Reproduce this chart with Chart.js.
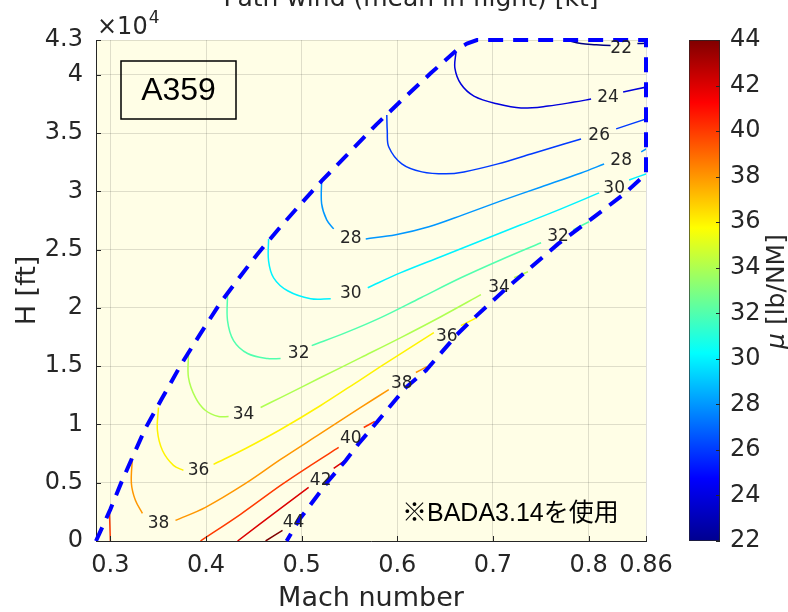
<!DOCTYPE html>
<html>
<head>
<meta charset="utf-8">
<script src="https://cdn.jsdelivr.net/npm/chart.js@4.4.1/dist/chart.umd.min.js"></script>
<style>
  html, body { margin: 0; padding: 0; background: #fff; }
  #wrap { position: relative; width: 788px; height: 612px; }
  #wrap canvas { position: absolute; left: 0; top: 0; }
</style>
</head>
<body>
<div id="wrap">
  <canvas id="contourChart" width="788" height="612"></canvas>
  <canvas id="colorbar" width="788" height="612"></canvas>
</div>
<script>
// axis ticks
const xTicks = [0.3, 0.4, 0.5, 0.6, 0.7, 0.8, 0.86];
const yTicks = [0, 5000, 10000, 15000, 20000, 25000, 30000, 35000, 40000, 43000];
const cbTicks = [22, 24, 26, 28, 30, 32, 34, 36, 38, 40, 42, 44];

// flight envelope (Mach, H[ft])
const envelope = [[0.285, 0], [0.300, 2716], [0.3115, 5030], [0.323, 7170], [0.3366, 9660],
  [0.3545, 12310], [0.3733, 15060], [0.3942, 17800], [0.4152, 20460], [0.4361, 22750],
  [0.4539, 24640], [0.4759, 26780], [0.499, 28930], [0.5209, 30900], [0.5513, 33470],
  [0.5775, 35700], [0.6037, 37760], [0.6351, 40160], [0.6644, 42300], [0.6728, 42690],
  [0.6832, 43000], [0.86, 43000], [0.86, 31510], [0.8372, 29790], [0.8058, 27820],
  [0.7681, 25500], [0.7136, 21650], [0.677, 18900], [0.6623, 17710], [0.6298, 14630],
  [0.6089, 13170], [0.5775, 10090], [0.5597, 8370], [0.5461, 6910], [0.5283, 5200],
  [0.4969, 1770], [0.4843, 0]];

// contour lines (null = gap for inline label)
const c22 = [[0.776, 43000], [0.792, 42690], [0.808, 42600], [0.823, 42520], null, [0.851, 42690], [0.860, 42730]];
const c24 = [[0.6613, 41960], [0.6602, 40590], [0.6665, 39220], [0.6801, 38190], [0.7052, 37500], [0.7293, 37160],
  [0.7576, 37330], [0.7848, 37670], [0.8026, 37930], null, [0.8361, 38530], [0.8602, 38960]];
const c26 = [[0.589, 36560], [0.5895, 35190], [0.5911, 33820], [0.6047, 32370], [0.6257, 31680], [0.6508, 31510],
  [0.6696, 31680], [0.7052, 32370], [0.7398, 33220], [0.7743, 34080], [0.7921, 34510], null, [0.8288, 35370], [0.8602, 36230]];
const c28 = [[0.5209, 30980], [0.5209, 28930], [0.5262, 27560], [0.5335, 26790], null, [0.567, 25930], [0.5984, 26280],
  [0.633, 26970], [0.6686, 27990], [0.7084, 29190], [0.7503, 30390], [0.7921, 31590], [0.8162, 32360], null,
  [0.855, 33390], [0.8602, 33650]];
const c30 = [[0.4654, 25920], [0.4654, 24050], [0.4707, 22590], [0.4853, 21480], [0.5094, 20800], [0.5304, 20800], null,
  [0.5691, 21740], [0.6037, 23030], [0.6455, 24400], [0.6874, 25770], [0.7293, 27140], [0.7712, 28510], [0.811, 29880], null,
  [0.8424, 30990], [0.8602, 31510]];
const c32 = [[0.4225, 21140], [0.4225, 18910], [0.4288, 17200], [0.4435, 16090], [0.4644, 15660], [0.478, 15660], null,
  [0.5105, 16770], [0.5461, 17880], [0.5827, 19170], [0.6246, 20880], [0.6665, 22590], [0.7084, 24140], [0.7503, 25600], null,
  [0.7838, 26710], [0.8005, 27400]];
const c34 = [[0.3817, 16080], [0.3817, 14030], [0.389, 12310], [0.3995, 11200], [0.4131, 10690], [0.4236, 10690], null,
  [0.4571, 11460], [0.478, 12310], [0.5199, 14030], [0.5618, 15740], [0.6037, 17460], [0.6455, 19250], [0.6874, 21140], null,
  [0.722, 22600], [0.7366, 23110]];
const c36 = [[0.3503, 11460], [0.3492, 9490], [0.3545, 7770], [0.366, 6490], [0.3764, 6060], null,
  [0.4079, 6570], [0.4414, 7940], [0.478, 9570], [0.5199, 11630], [0.5618, 13860], [0.6037, 16090], [0.6382, 17880], null,
  [0.6665, 18480], [0.6832, 19170]];
const c38 = [[0.323, 7090], [0.322, 4940], [0.3262, 3490], [0.3335, 2380], null,
  [0.3681, 1770], [0.3995, 2890], [0.4414, 4940], [0.478, 7000], [0.5199, 9230], [0.5618, 11460], [0.5911, 13000], null,
  [0.6194, 14460], [0.6309, 14970]];
const c40 = [[0.3942, 0], [0.4361, 2290], [0.478, 4770], [0.5094, 6490], [0.5387, 8030], null, [0.5649, 9740], [0.5764, 10260]];
const c40edge = [[0.299, 2630], [0.2995, 1340], [0.300, 0]];
const c42 = [[0.433, 0], [0.478, 2800], [0.5073, 4600], null, [0.5335, 6230], [0.5471, 7000]];
const c44 = [[0.4623, 0], [0.48, 920]];

// inline contour labels: level, Mach, H
const contourLabels = [
  [22, 0.834, 42300], [24, 0.8204, 38020], [26, 0.811, 34760],
  [28, 0.5513, 25920], [28, 0.834, 32620],
  [30, 0.5513, 21220], [30, 0.8267, 30210],
  [32, 0.4969, 16090], [32, 0.768, 26110],
  [34, 0.4393, 10860], [34, 0.7063, 21740],
  [36, 0.3921, 6060], [36, 0.6518, 17540],
  [38, 0.3503, 1520], [38, 0.6047, 13510],
  [40, 0.5513, 8800], [42, 0.5199, 5200], [44, 0.4916, 1600]
];

const contourSets = [[22, c22], [24, c24], [26, c26], [28, c28], [30, c30], [32, c32], [34, c34],
  [36, c36], [38, c38], [40, c40], [40, c40edge], [42, c42], [44, c44]];

const cbMin = cbTicks[0], cbMax = cbTicks[cbTicks.length - 1];

function jet(v) {
  const t = (v - cbMin) / (cbMax - cbMin);
  const f = k => Math.round(255 * Math.max(0, Math.min(1, 1.5 - Math.abs(4 * t - k))));
  return 'rgb(' + f(3) + ',' + f(2) + ',' + f(1) + ')';
}

function toPoints(arr) {
  return arr.map(p => p ? {x: p[0], y: p[1]} : {x: null, y: null});
}

Chart.defaults.font.family = '"DejaVu Sans", sans-serif';
Chart.defaults.font.size = 24;
Chart.defaults.color = '#262626';

const datasets = [{
  data: toPoints(envelope),
  borderColor: '#0000ff',
  borderWidth: 4,
  borderDash: [15, 10],
  pointRadius: 0,
  tension: 0,
  clip: 6
}];
contourSets.forEach(([lv, arr]) => {
  datasets.push({
    data: toPoints(arr),
    borderColor: jet(lv),
    borderWidth: 1.5,
    pointRadius: 0,
    tension: 0.35
  });
});

const decorations = {
  id: 'decorations',
  beforeDraw(chart) {
    const {ctx, chartArea: a} = chart;
    ctx.save();
    ctx.fillStyle = '#fffee6';
    ctx.fillRect(a.left, a.top, a.right - a.left, a.bottom - a.top);
    ctx.restore();
  },
  afterDatasetsDraw(chart) {
    const {ctx, chartArea: a, scales: {x, y}} = chart;
    ctx.save();
    ctx.font = '17px "DejaVu Sans"';
    ctx.fillStyle = '#262626';
    ctx.textAlign = 'center';
    ctx.textBaseline = 'middle';
    contourLabels.forEach(([lv, m, h]) => {
      ctx.fillText(String(lv), x.getPixelForValue(m), y.getPixelForValue(h));
    });

    // inward tick marks
    ctx.strokeStyle = '#262626';
    ctx.lineWidth = 1;
    ctx.beginPath();
    yTicks.forEach(v => {
      const py = Math.round(y.getPixelForValue(v)) + 0.5;
      ctx.moveTo(a.left, py); ctx.lineTo(a.left + 5, py);
    });
    xTicks.forEach(v => {
      const px = Math.round(x.getPixelForValue(v)) + 0.5;
      ctx.moveTo(px, a.bottom); ctx.lineTo(px, a.bottom - 5);
    });
    ctx.stroke();

    // A359 box
    ctx.lineWidth = 1.5;
    ctx.strokeStyle = '#000';
    ctx.strokeRect(a.left + 25, a.top + 21, 115, 58);
    ctx.fillStyle = '#000';
    ctx.font = '32px "Liberation Sans", Arial, sans-serif';
    ctx.fillText('A359', a.left + 82.5, a.top + 51);

    // note
    ctx.textAlign = 'left';
    ctx.font = '25px "Liberation Sans", "Noto Sans CJK JP", sans-serif';
    ctx.fillText('※BADA3.14を使用', 402, a.bottom - 27);

    // exponent
    ctx.fillStyle = '#262626';
    ctx.textBaseline = 'alphabetic';
    ctx.font = '24px "DejaVu Sans"';
    ctx.fillText('×10', a.left + 1, a.top - 6);
    const w = ctx.measureText('×10').width;
    ctx.font = '17px "DejaVu Sans"';
    ctx.fillText('4', a.left + 2 + w, a.top - 17);

    // title (cut at the top edge)
    ctx.textAlign = 'center';
    ctx.font = '25px "DejaVu Sans"';
    ctx.fillText('Path wind (mean in flight) [kt]', 411, 6);
    ctx.restore();
  }
};

new Chart(document.getElementById('contourChart'), {
  type: 'line',
  data: { datasets: datasets },
  options: {
    responsive: false,
    animation: false,
    events: [],
    layout: { padding: { left: 0, right: 142, top: 40, bottom: 0 } },
    plugins: { legend: { display: false }, tooltip: { enabled: false } },
    scales: {
      x: {
        type: 'linear',
        min: 0.285,
        max: 0.86,
        afterBuildTicks: s => { s.ticks = xTicks.map(v => ({value: v})); },
        afterFit: s => { s.height = 71; },
        grid: { color: 'rgba(38,38,38,0.15)', drawTicks: false },
        border: { color: '#262626', width: 1 },
        ticks: { padding: 10, autoSkip: false, maxRotation: 0, callback: v => String(v) },
        title: { display: true, text: 'Mach number', font: { size: 27, lineHeight: 1 }, padding: 0 }
      },
      y: {
        min: 0,
        max: 43000,
        afterBuildTicks: s => { s.ticks = yTicks.map(v => ({value: v})); },
        afterFit: s => { s.width = 96; },
        grid: { color: 'rgba(38,38,38,0.15)', drawTicks: false },
        border: { color: '#262626', width: 1 },
        ticks: { padding: 13, autoSkip: false, callback: v => String(v / 10000) },
        title: { display: true, text: 'H [ft]', font: { size: 27, lineHeight: 1 }, padding: { top: 14, bottom: 0 } }
      }
    }
  },
  plugins: [decorations]
});

function jetGradient(chart) {
  const a = chart.chartArea;
  if (!a) return null;
  const g = chart.ctx.createLinearGradient(0, a.bottom, 0, a.top);
  [[0, '#00008f'], [0.125, '#0000ff'], [0.375, '#00ffff'], [0.625, '#ffff00'], [0.875, '#ff0000'], [1, '#800000']]
    .forEach(([t, c]) => g.addColorStop(t, c));
  return g;
}

const colorbarExtras = {
  id: 'colorbarExtras',
  afterDraw(chart) {
    const {ctx, chartArea: a, scales: {y}} = chart;
    ctx.save();
    ctx.strokeStyle = '#262626';
    ctx.lineWidth = 1;
    ctx.beginPath();
    cbTicks.forEach(v => {
      const py = Math.round(y.getPixelForValue(v)) + 0.5;
      ctx.moveTo(a.right, py); ctx.lineTo(a.right - 4, py);
    });
    ctx.stroke();

    ctx.translate(a.right + 57, (a.top + a.bottom) / 2 + 1);
    ctx.rotate(-Math.PI / 2);
    ctx.fillStyle = '#262626';
    ctx.textBaseline = 'middle';
    ctx.textAlign = 'left';
    const f1 = 'italic 25px "DejaVu Sans"', f2 = '25px "DejaVu Sans"';
    ctx.font = f1; const w1 = ctx.measureText('μ').width;
    ctx.font = f2; const w2 = ctx.measureText(' [lb/NM]').width;
    const x0 = -(w1 + w2) / 2;
    ctx.font = f1; ctx.fillText('μ', x0, 0);
    ctx.font = f2; ctx.fillText(' [lb/NM]', x0 + w1, 0);
    ctx.restore();
  }
};

new Chart(document.getElementById('colorbar'), {
  type: 'bar',
  data: {
    labels: ['μ'],
    datasets: [{
      data: [[cbMin, cbMax]],
      backgroundColor: c => jetGradient(c.chart),
      borderColor: '#262626',
      borderWidth: 1,
      borderSkipped: false,
      barPercentage: 1,
      categoryPercentage: 1
    }]
  },
  options: {
    responsive: false,
    animation: false,
    events: [],
    layout: { padding: { left: 689, right: 0, top: 40, bottom: 71 } },
    plugins: { legend: { display: false }, tooltip: { enabled: false } },
    scales: {
      x: { display: false },
      y: {
        position: 'right',
        min: cbMin,
        max: cbMax,
        afterBuildTicks: s => { s.ticks = cbTicks.map(v => ({value: v})); },
        afterFit: s => { s.width = 68; },
        grid: { display: false, drawTicks: false },
        border: { display: false },
        ticks: { padding: 10, autoSkip: false }
      }
    }
  },
  plugins: [colorbarExtras]
});
</script>
</body>
</html>
